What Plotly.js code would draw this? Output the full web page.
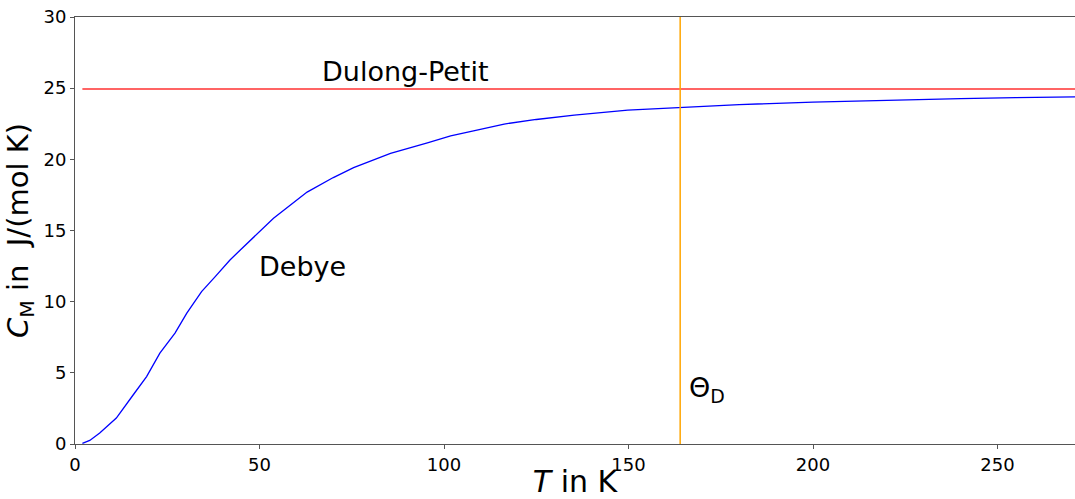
<!DOCTYPE html>
<html>
<head>
<meta charset="utf-8">
<script src="https://cdn.plot.ly/plotly-3.0.1.min.js"></script>
<style>html,body{margin:0;padding:0;background:#fff;}#chart{width:1075px;height:499px;}</style>
</head>
<body>
<div id="chart"></div>
<script>
// Debye heat capacity curve
const T_debye = [2, 4, 6.7, 11.2, 15.8, 19.4, 23, 27.1, 30.3, 34.3, 38, 42, 44.8, 53.8, 62.9, 70, 75.5, 85.5, 95.5, 101.8, 108, 116.3, 125, 135.3, 149.8, 163.9, 180, 200, 219.5, 240, 255, 271];
const C_debye = [0.05, 0.25, 0.77, 1.82, 3.46, 4.74, 6.38, 7.79, 9.19, 10.71, 11.76, 12.93, 13.63, 15.86, 17.7, 18.72, 19.42, 20.42, 21.16, 21.64, 22.0, 22.48, 22.8, 23.11, 23.46, 23.65, 23.85, 24.02, 24.16, 24.27, 24.33, 24.39];
// Dulong-Petit limit 3R
const T_dp = [2, 271];
const C_dp = [24.94, 24.94];
// Debye temperature
const theta_D = 164;
const C_range = [0, 30];
const T_range = [0, 271];
const xTicks = [0, 50, 100, 150, 200, 250];
const yTicks = [0, 5, 10, 15, 20, 25, 30];

const font = 'DejaVu Sans, sans-serif';
const traces = [
  {x: T_debye, y: C_debye, mode: 'lines', line: {color: 'blue', width: 1.3}, hoverinfo: 'skip'},
  {x: T_dp, y: C_dp, mode: 'lines', line: {color: '#ff3030', width: 1.5}, hoverinfo: 'skip'},
  {x: [theta_D, theta_D], y: C_range, mode: 'lines', line: {color: 'orange', width: 1.5}, hoverinfo: 'skip'}
];
const layout = {
  width: 1075, height: 499,
  margin: {l: 75, r: 0, t: 17, b: 55},
  showlegend: false,
  plot_bgcolor: '#fff', paper_bgcolor: '#fff',
  font: {family: font, color: '#000'},
  xaxis: {
    range: T_range, tickvals: xTicks, ticks: 'outside', ticklen: 4, tickcolor: '#555',
    showline: true, linecolor: '#555', linewidth: 1, mirror: true, showgrid: false, zeroline: false,
    tickfont: {size: 18, family: font},
    title: {text: '<i>T</i> in K', font: {size: 30, family: font}, standoff: 9}
  },
  yaxis: {
    range: C_range, tickvals: yTicks, ticks: 'outside', ticklen: 4, tickcolor: '#555',
    showline: true, linecolor: '#555', linewidth: 1, mirror: true, showgrid: false, zeroline: false,
    tickfont: {size: 18, family: font},
    title: {text: '<i>C</i><sub>M</sub> in  J/(mol K)', font: {size: 29, family: font}, standoff: 6}
  },
  annotations: [
    {x: 66.5, y: 26.15, xref: 'x', yref: 'y', text: 'Dulong-Petit', showarrow: false, xanchor: 'left', yanchor: 'middle', font: {size: 27, family: font}},
    {x: 49.3, y: 12.45, xref: 'x', yref: 'y', text: 'Debye', showarrow: false, xanchor: 'left', yanchor: 'middle', font: {size: 27, family: font}},
    {x: 165.8, y: 3.85, xref: 'x', yref: 'y', text: '\u0398<sub>D</sub>', showarrow: false, xanchor: 'left', yanchor: 'middle', font: {size: 27, family: font}}
  ]
};
Plotly.newPlot('chart', traces, layout, {staticPlot: true, displayModeBar: false});
</script>
</body>
</html>
